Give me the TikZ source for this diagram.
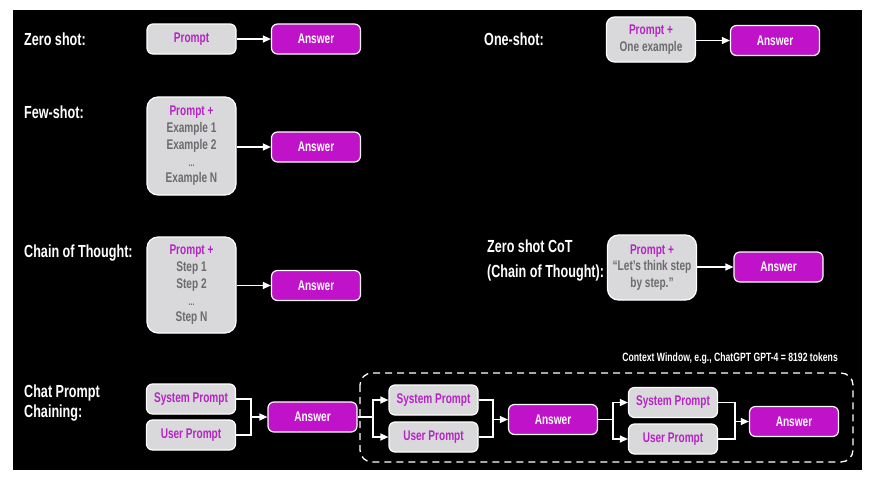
\documentclass[tikz,border=0pt]{standalone}
\usepackage{fontspec}
\setmainfont{Liberation Sans}[FakeStretch=0.72]
\usepackage{xcolor}
\usetikzlibrary{positioning, arrows.meta}
\definecolor{boxgray}{HTML}{D9D9DB}
\definecolor{answermag}{HTML}{C012C8}
\definecolor{promptmag}{HTML}{B624C4}
\definecolor{textgray}{HTML}{6B6B70}
\begin{document}
\begin{tikzpicture}[x=1pt, y=-1pt,
    promptbox/.style={rectangle, rounded corners=6pt, draw=white, line width=1.2pt, fill=boxgray, text=textgray, minimum width=89pt, minimum height=30pt, align=center, inner sep=2pt, font=\bfseries\fontsize{14}{16.7}\selectfont},
    bigbox/.style={promptbox, rounded corners=11pt},
    answerbox/.style={promptbox, fill=answermag, text=white},
    title/.style={text=white, anchor=west, align=left, inner sep=0pt, font=\bfseries\fontsize{17.5}{25}\selectfont},
    arr/.style={draw=white, line width=1.2pt, -{Triangle[length=8pt,width=7pt]}},
    link/.style={draw=white, line width=1.2pt}]
  \useasboundingbox (0,0) rectangle (871,477);
  \fill[white] (0,0) rectangle (871,477);
  \fill[black] (13,10) rectangle (862,470);

  % zero shot
  \node[title] (zsl) at (24,39) {Zero shot:};
  \node[promptbox] (zsp) at (191.5,39) {\color{promptmag}Prompt};
  \node[answerbox] (zsa) at (316,39) {Answer};
  \draw[arr] (zsp) -- (zsa);

  % one shot
  \node[title] (osl) at (484,39) {One-shot:};
  \node[promptbox, rounded corners=8pt, minimum height=45pt] (osp) at (651,39.5) {{\color{promptmag}Prompt +}\\One example};
  \node[answerbox] (osa) at (775,40.5) {Answer};
  \draw[arr] (osp.east |- osa) -- (osa);

  % few shot
  \node[title] (fsl) at (24,112) {Few-shot:};
  \node[bigbox, minimum height=98pt] (fsp) at (191.5,146) {{\color{promptmag}Prompt +}\\Example 1\\Example 2\\{\fontsize{10}{16.7}\selectfont ...}\\Example N};
  \node[answerbox] (fsa) at (316,147) {Answer};
  \draw[arr] (fsp.east |- fsa) -- (fsa);

  % chain of thought
  \node[title] (cotl) at (24,253) {Chain of Thought:};
  \node[bigbox, minimum height=96pt] (cotp) at (191.5,285) {{\color{promptmag}Prompt +}\\Step 1\\Step 2\\{\fontsize{10}{16.7}\selectfont ...}\\Step N};
  \node[answerbox] (cota) at (316,285.5) {Answer};
  \draw[arr] (cotp.east |- cota) -- (cota);

  % zero shot CoT
  \node[title] (zcl) at (487,260.5) {Zero shot CoT\\(Chain of Thought):};
  \node[bigbox, minimum height=65pt] (zcp) at (652,267.5) {{\color{promptmag}Prompt +}\\``Let's think step\\by step.''};
  \node[answerbox] (zca) at (778.5,267) {Answer};
  \draw[arr] (zcp.east |- zca) -- (zca);

  % chat prompt chaining
  \node[text=white, anchor=east, inner sep=0pt, font=\bfseries\fontsize{12}{14}\selectfont] (ctx) at (838,358) {Context Window, e.g., ChatGPT GPT-4 = 8192 tokens};
  \draw[white, line width=1.3pt, dash pattern=on 7pt off 5pt, rounded corners=12pt] (360,373) rectangle (853,462);

  \node[title, font=\bfseries\fontsize{17.5}{20}\selectfont] (cpl) at (24,403) {Chat Prompt\\Chaining:};
  \node[promptbox, text=promptmag] (sys1) at (191,399) {System Prompt};
  \node[promptbox, text=promptmag] (usr1) at (191,435) {User Prompt};
  \node[answerbox] (ans1) at (312.5,417) {Answer};
  \node[promptbox, text=promptmag] (sys2) at (433.5,400) {System Prompt};
  \node[promptbox, text=promptmag] (usr2) at (433.5,437) {User Prompt};
  \node[answerbox] (ans2) at (553,419.5) {Answer};
  \node[promptbox, text=promptmag] (sys3) at (673,402.5) {System Prompt};
  \node[promptbox, text=promptmag] (usr3) at (673,439) {User Prompt};
  \node[answerbox] (ans3) at (794,421.5) {Answer};

  \coordinate (j1) at (251,417);
  \coordinate (j2) at (373,417);
  \coordinate (j3) at (493,419.5);
  \coordinate (j4) at (613,419.5);
  \coordinate (j5) at (735,421.5);

  \draw[link] (sys1.east) -| (j1);
  \draw[link] (usr1.east) -| (j1);
  \draw[arr] (j1) -- (ans1);
  \draw[link] (ans1.east) -- (j2);
  \draw[arr] (j2) |- (sys2.west);
  \draw[arr] (j2) |- (usr2.west);
  \draw[link] (sys2.east) -| (j3);
  \draw[link] (usr2.east) -| (j3);
  \draw[arr] (j3) -- (ans2);
  \draw[link] (ans2.east) -- (j4);
  \draw[arr] (j4) |- (sys3.west);
  \draw[arr] (j4) |- (usr3.west);
  \draw[link] (sys3.east) -| (j5);
  \draw[link] (usr3.east) -| (j5);
  \draw[arr] (j5) -- (ans3);
\end{tikzpicture}
\end{document}
